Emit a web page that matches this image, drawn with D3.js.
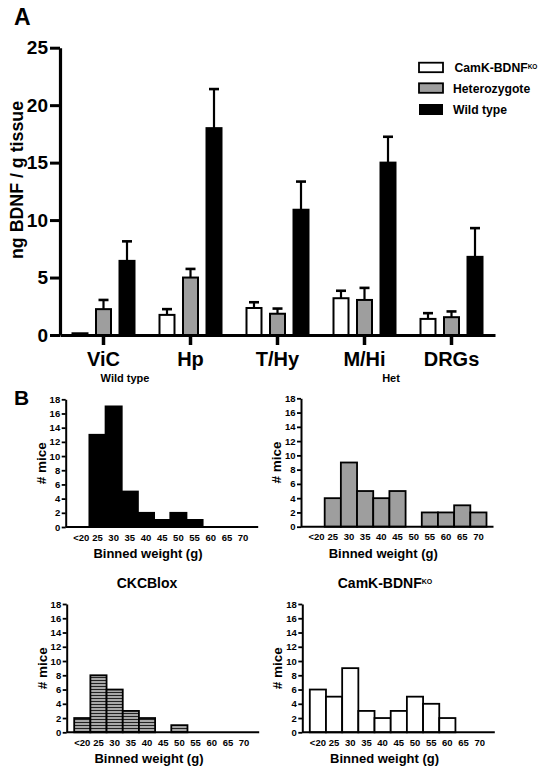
<!DOCTYPE html>
<html><head><meta charset="utf-8">
<script src="https://cdn.jsdelivr.net/npm/d3@7"></script>
<style>
html,body{margin:0;padding:0;background:#fff;}
text{font-family:"Liberation Sans",Arial,Helvetica,sans-serif;font-weight:bold;fill:#000;}
</style></head>
<body>
<svg id="chart" width="548" height="771"></svg>
<script>
// ---------- Panel A data ----------
const regions = ["ViC", "Hp", "T/Hy", "M/Hi", "DRGs"];
const genotypes = ["CamK-BDNF", "Heterozygote", "Wild type"];
const koMeans  = [0.15, 1.75, 2.35, 3.2, 1.4];
const koErr    = [0.0, 0.5, 0.5, 0.65, 0.5];
const hetMeans = [2.25, 5.0, 1.85, 3.05, 1.55];
const hetErr   = [0.8, 0.75, 0.45, 1.05, 0.5];
const wtMeans  = [6.45, 18.0, 10.9, 15.0, 6.8];
const wtErr    = [1.7, 3.4, 2.45, 2.25, 2.5];
const yTicksA  = [0, 5, 10, 15, 20, 25];

// ---------- Panel B data ----------
const bins = ["<20", "25", "30", "35", "40", "45", "50", "55", "60", "65", "70"];
const wtCounts   = [0, 13, 17, 5, 2, 1, 2, 1, 0, 0, 0];
const hetCounts  = [0, 4, 9, 5, 4, 5, 0, 2, 2, 3, 2];
const ckcCounts  = [2, 8, 6, 3, 2, 0, 1, 0, 0, 0, 0];
const camkCounts = [6, 5, 9, 3, 2, 3, 5, 4, 2, 0, 0];
const yTicksB = [0, 2, 4, 6, 8, 10, 12, 14, 16, 18];

const svg = d3.select("#chart");
const fills = ["#ffffff", "#9e9e9e", "#000000"];

// pattern for CKCBlox hatch
const defs = svg.append("defs");
const pat = defs.append("pattern").attr("id", "hatch").attr("patternUnits", "userSpaceOnUse")
  .attr("width", 6).attr("height", 3);
pat.append("rect").attr("width", 6).attr("height", 3).attr("fill", "#a8a8a8");
pat.append("rect").attr("y", 2).attr("width", 6).attr("height", 1).attr("fill", "#222");

// ---------- Panel A ----------
svg.append("text").attr("x", 14).attr("y", 25).attr("font-size", 23).text("A");

const xA = d3.scaleBand().domain(regions).range([60, 495]).padding(0);
const xIn = d3.scaleBand().domain(genotypes).range([-32, 32]).paddingInner(0.277).paddingOuter(0);
const yA = d3.scaleLinear().domain([0, 25]).range([335, 47.7]);

const series = [
  {name: genotypes[0], means: koMeans, errs: koErr, fill: fills[0]},
  {name: genotypes[1], means: hetMeans, errs: hetErr, fill: fills[1]},
  {name: genotypes[2], means: wtMeans, errs: wtErr, fill: fills[2]}
];

const gA = svg.append("g");
series.forEach(s => {
  regions.forEach((r, i) => {
    const cx = xA(r) + xA.bandwidth() / 2 + xIn(s.name) + xIn.bandwidth() / 2;
    const x = xA(r) + xA.bandwidth() / 2 + xIn(s.name);
    const top = yA(s.means[i]);
    if (s.errs[i] > 0) {
      const et = yA(s.means[i] + s.errs[i]);
      gA.append("line").attr("x1", cx).attr("x2", cx).attr("y1", top).attr("y2", et)
        .attr("stroke", "#000").attr("stroke-width", 2.2);
      gA.append("line").attr("x1", cx - 5).attr("x2", cx + 5).attr("y1", et).attr("y2", et)
        .attr("stroke", "#000").attr("stroke-width", 2.6);
    }
    gA.append("rect").attr("x", x + 1).attr("y", top).attr("width", xIn.bandwidth() - 2)
      .attr("height", Math.max(0, yA(0) - top))
      .attr("fill", s.fill).attr("stroke", "#000").attr("stroke-width", 2);
  });
});

const yAxisA = svg.append("g").attr("transform", "translate(60,0)")
  .call(d3.axisLeft(yA).tickValues(yTicksA).tickSize(10).tickSizeOuter(0).tickPadding(2));
yAxisA.selectAll("text").attr("font-size", 19).style("font-family", "Liberation Sans, Arial").style("font-weight", "bold");
yAxisA.select(".domain").attr("stroke-width", 3.2);
yAxisA.selectAll(".tick line").attr("stroke-width", 3);

const xAxisA = svg.append("g").attr("transform", "translate(0,335)")
  .call(d3.axisBottom(xA).tickSize(10).tickSizeOuter(0).tickPadding(6.5));
xAxisA.selectAll("text").attr("font-size", 20).style("font-family", "Liberation Sans, Arial").style("font-weight", "bold");
xAxisA.select(".domain").attr("stroke-width", 3.2);
xAxisA.selectAll(".tick line").attr("stroke-width", 3.5);

svg.append("text").attr("transform", "translate(23,180) rotate(-90)")
  .attr("text-anchor", "middle").attr("font-size", 17.8).text("ng BDNF / g tissue");

// legend
const legY = [62.7, 83.3, 104];
const legText = [["CamK-BDNF", "KO"], ["Heterozygote", ""], ["Wild type", ""]];
series.forEach((s, i) => {
  svg.append("rect").attr("x", 419).attr("y", legY[i]).attr("width", 24).attr("height", i === 2 ? 11 : 9.5)
    .attr("fill", s.fill).attr("stroke", "#000").attr("stroke-width", i === 2 ? 0 : 1.8);
  const t = svg.append("text").attr("x", i === 0 ? 454.5 : 453).attr("y", legY[i] + 9.5).attr("font-size", 12.2)
    .text(legText[i][0]);
  if (legText[i][1]) t.append("tspan").attr("font-size", 6.5).attr("dy", -3.5).text(legText[i][1]);
});

// ---------- Panel B ----------
svg.append("text").attr("x", 14).attr("y", 405).attr("font-size", 21).text("B");

const panels = [
  {title: "Wild type", tx: 125, ty: 382, counts: wtCounts, fill: "#000", ax: 65.7, top: 399.3, bot: 527, titleSize: 11},
  {title: "Het", tx: 391, ty: 382, counts: hetCounts, fill: "#9e9e9e", ax: 301, top: 398.3, bot: 526.7, titleSize: 11},
  {title: "CKCBlox", tx: 147, ty: 588, counts: ckcCounts, fill: "url(#hatch)", ax: 66.7, top: 604, bot: 732.3, titleSize: 14},
  {title: "CamK-BDNF", sup: "KO", tx: 385, ty: 588, counts: camkCounts, fill: "#fff", ax: 302.3, top: 604, bot: 732.3, titleSize: 14}
];

panels.forEach(p => {
  const g = svg.append("g");
  const x = d3.scaleBand().domain(bins).range([p.ax + 7.5, p.ax + 185.5]).padding(0);
  const y = d3.scaleLinear().domain([0, 18]).range([p.bot, p.top]);

  bins.forEach((b, i) => {
    const v = p.counts[i];
    if (v <= 0) return;
    g.append("rect").attr("x", x(b)).attr("y", y(v)).attr("width", x.bandwidth())
      .attr("height", y(0) - y(v)).attr("fill", p.fill).attr("stroke", "#000").attr("stroke-width", 1.8);
  });

  const ya = g.append("g").attr("transform", `translate(${p.ax},0)`)
    .call(d3.axisLeft(y).tickValues(yTicksB).tickSize(4).tickSizeOuter(0).tickPadding(1.5));
  ya.selectAll("text").attr("font-size", 9.5).style("font-family", "Liberation Sans, Arial").style("font-weight", "bold");
  ya.select(".domain").attr("stroke-width", 2);
  ya.selectAll(".tick line").attr("stroke-width", 1.8);

  const xa = g.append("g").attr("transform", `translate(0,${p.bot})`)
    .call(d3.axisBottom(x).tickSize(0).tickPadding(7));
  xa.select(".domain").remove();
  xa.selectAll("text").attr("font-size", 9.5).style("font-family", "Liberation Sans, Arial").style("font-weight", "bold");
  g.append("line").attr("x1", p.ax).attr("x2", p.ax + 192.5).attr("y1", p.bot).attr("y2", p.bot)
    .attr("stroke", "#000").attr("stroke-width", 2);

  g.append("text").attr("x", (p.ax + p.ax + 192.5) / 2 - 14).attr("y", p.bot + 31).attr("text-anchor", "middle")
    .attr("font-size", 13).text("Binned weight (g)");
  g.append("text").attr("transform", `translate(${p.ax - 20},${(p.top + p.bot) / 2}) rotate(-90)`)
    .attr("text-anchor", "middle").attr("font-size", 13.5).text("# mice");

  const t = g.append("text").attr("x", p.tx).attr("y", p.ty).attr("text-anchor", "middle")
    .attr("font-size", p.titleSize).text(p.title);
  if (p.sup) t.append("tspan").attr("font-size", 7).attr("dy", -4.5).text(p.sup);
});
</script>
</body></html>
